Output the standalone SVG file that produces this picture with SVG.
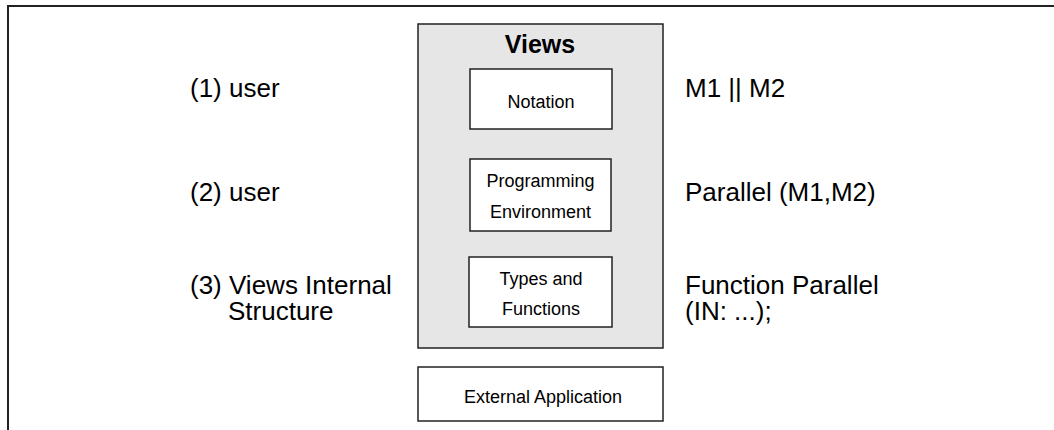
<svg xmlns="http://www.w3.org/2000/svg" width="1054" height="430" viewBox="0 0 1054 430">
<style>
.box{fill:#ffffff;stroke:#222;stroke-width:1.5}
.grp{fill:#e6e6e6;stroke:#222;stroke-width:1.5}
.lbl{font-family:"Liberation Sans",Arial,sans-serif;font-size:18px;fill:#000;text-anchor:middle}
.side{font-family:"Liberation Sans",Arial,sans-serif;font-size:26px;fill:#000}
.title{font-family:"Liberation Sans",Arial,sans-serif;font-size:25px;font-weight:bold;fill:#000;text-anchor:middle}
</style>
<rect width="1054" height="430" fill="#fff"/>
<path d="M8,430 L8,6 L1054,6" fill="none" stroke="#222" stroke-width="2"/>
<g id="views">
<rect class="grp" x="418" y="24" width="245" height="324"/>
<text class="title" x="540" y="53">Views</text>
</g>
<g id="notation">
<rect class="box" x="470" y="69" width="142" height="60"/>
<text class="lbl" x="541" y="108">Notation</text>
</g>
<g id="programming-environment">
<rect class="box" x="470" y="159" width="141" height="72"/>
<text class="lbl" x="540.5" y="187">Programming</text>
<text class="lbl" x="540.5" y="218">Environment</text>
</g>
<g id="types-and-functions">
<rect class="box" x="469" y="257" width="143" height="70"/>
<text class="lbl" x="541" y="285">Types and</text>
<text class="lbl" x="541" y="315">Functions</text>
</g>
<g id="external-application">
<rect class="box" x="418" y="367" width="245" height="54"/>
<text class="lbl" x="543" y="403">External Application</text>
</g>
<g id="labels-left">
<text class="side" x="190" y="97">(1) user</text>
<text class="side" x="190" y="201">(2) user</text>
<text class="side" x="190" y="294">(3) Views Internal</text>
<text class="side" x="228" y="320">Structure</text>
</g>
<g id="labels-right">
<text class="side" x="685" y="97">M1 || M2</text>
<text class="side" x="685" y="201">Parallel (M1,M2)</text>
<text class="side" x="685" y="294">Function Parallel</text>
<text class="side" x="685" y="320">(IN: ...);</text>
</g>
<g id="connectors"></g>
</svg>
